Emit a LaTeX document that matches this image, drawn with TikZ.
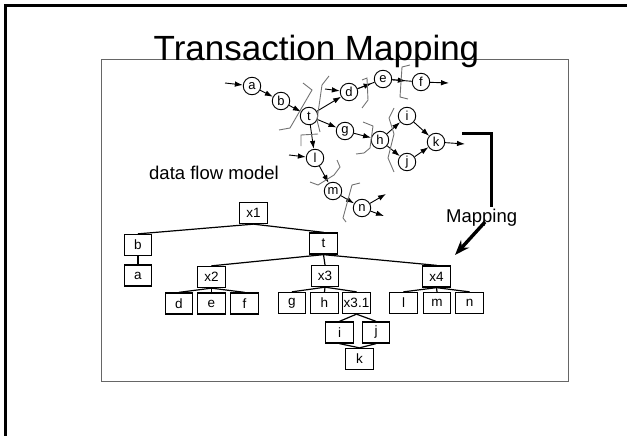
\documentclass[tikz,border=0pt]{standalone}
\usepackage{fontspec}
\setmainfont{Liberation Sans}
\usetikzlibrary{arrows.meta}
\tikzset{
  proc/.style={circle, draw, line width=0.9pt, minimum size=17.5pt, inner sep=0pt,
    font=\fontsize{13}{13}\selectfont},
  tbox/.style={draw, line width=1.3pt, minimum width=27.5pt, minimum height=21pt,
    inner sep=0pt, font=\fontsize{13.5}{13.5}\selectfont},
  flow/.style={-{Latex[length=8pt,width=5.5pt]}, line width=0.9pt},
  plain/.style={line width=0.9pt},
  bnd/.style={draw=black!55, line width=0.9pt},
  tree/.style={line width=1.2pt},
  heavy/.style={line width=3.6pt}
}
\begin{document}
\begin{tikzpicture}[x=1pt,y=-1pt]
\useasboundingbox (0,0) rectangle (627,436);
% slide frame and picture frame
\draw[line width=2.6pt] (5.3,436) -- (5.3,5.3) -- (627,5.3);
\draw[line width=0.8pt, draw=black!60] (101,59) rectangle (568,381);
\node[anchor=base, font=\fontsize{35}{35}\selectfont, inner sep=0pt] (title) at (316.5,61) {Transaction Mapping};

% ---------- data flow model ----------
\node[proc] (a) at (252,86) {a};
\node[proc] (b) at (281,101) {b};
\node[proc] (t) at (309,116) {t};
\node[proc] (d) at (349,92) {d};
\node[proc] (e) at (383,79) {e};
\node[proc] (f) at (421,82) {f};
\node[proc] (g) at (345,131) {g};
\node[proc] (h) at (380,140) {h};
\node[proc] (i) at (407,116) {i};
\node[proc] (j) at (407,162) {j};
\node[proc] (k) at (436,142) {k};
\node[proc] (l) at (315,158) {l};
\node[proc] (m) at (333,191) {m};
\node[proc] (n) at (362,208) {n};

\coordinate (ain) at (225,83);
\coordinate (din) at (325,89);
\coordinate (fout) at (449,83);
\coordinate (kout) at (465,144);
\coordinate (lin) at (289,155);
\coordinate (nout1) at (386,194);
\coordinate (nout2) at (384,216);

\draw[flow] (ain) -- (a);
\draw[flow] (a) -- (b);
\draw[flow] (b) -- (t);
\draw[flow] (t) -- (d);
\draw[flow] (din) -- (d);
\draw[plain] (d) -- (e);
\draw[flow, shorten >=3pt] (d) -- (e);
\draw[plain] (e) -- (f);
\draw[flow, shorten >=6pt] (e) -- (f);
\draw[flow] (f) -- (fout);
\draw[flow] (t) -- (g);
\draw[flow] (g) -- (h);
\draw[flow] (h) -- (i);
\draw[flow] (h) -- (j);
\draw[flow] (i) -- (k);
\draw[flow] (j) -- (k);
\draw[flow] (k) -- (kout);
\draw[flow] (t) -- (l);
\draw[flow] (lin) -- (l);
\draw[flow] (l) -- (m);
\draw[flow] (m) -- (n);
\draw[flow] (n) -- (nout1);
\draw[flow] (n) -- (nout2);

% transaction boundaries
\draw[bnd] (303,83) -- (312,90) -- (290,128) -- (279,130);
\draw[bnd] (329,76) -- (322,85) -- (317,120) -- (320,132);
\draw[bnd] (301,146) -- (301,135) -- (318,134);
\draw[bnd] (362,80) -- (367,78) -- (368,100) -- (362,108);
\draw[bnd] (410,65) -- (402,67) -- (400,97) -- (408,99);
\draw[bnd] (363,122) -- (373,126) -- (370,148) -- (364,153) -- (356,154);
\draw[bnd] (394,108) -- (389,118) -- (394,134) -- (388,158) -- (394,172);
\draw[bnd] (310,182) -- (318,185) -- (334,175) -- (340,167) -- (337,160);
\draw[bnd] (360,183) -- (352,185) -- (343,218) -- (346,222);

\node[anchor=base west, font=\fontsize{18.5}{18.5}\selectfont, inner sep=0pt] (dfm) at (149,179) {data flow model};

% ---------- mapping marker ----------
\coordinate (m1) at (462,133.3);
\coordinate (m2) at (491.5,133.3);
\coordinate (m3) at (491.5,207);
\draw[heavy] (m1) -- (m2) -- (m3);
\node[anchor=base west, font=\fontsize{18.5}{18.5}\selectfont, inner sep=0pt] (maplabel) at (446,222) {Mapping};
\coordinate (ms) at (485,222);
\coordinate (me) at (455,255);
\draw[line width=3.4pt, -{Stealth[length=15pt,width=11pt]}] (ms) -- (me);

% ---------- program structure ----------
\node[tbox] (X1) at (253.5,213) {x1};
\node[tbox] (B) at (138,245) {b};
\node[tbox] (A) at (138,275.5) {a};
\node[tbox] (T) at (323.5,243.5) {t};
\node[tbox] (X2) at (211.5,277) {x2};
\node[tbox] (X3) at (325,276) {x3};
\node[tbox] (X4) at (436.5,276.5) {x4};
\node[tbox] (D) at (179,303.5) {d};
\node[tbox] (E) at (211.5,303.5) {e};
\node[tbox] (F) at (244.5,303.5) {f};
\node[tbox] (G) at (292,303) {g};
\node[tbox] (H) at (324.5,303) {h};
\node[tbox] (X31) at (356.5,303) {x3.1};
\node[tbox] (L) at (403.5,303) {l};
\node[tbox] (M) at (437,303) {m};
\node[tbox] (N) at (469.5,303) {n};
\node[tbox] (I) at (339.5,332.5) {i};
\node[tbox] (J) at (376,332.5) {j};
\node[tbox] (K) at (359.5,359) {k};

\draw[tree] (X1.south) -- (B.north);
\draw[tree] (X1.south) -- (T.north);
\draw[tree] (B.south) -- (A.north);
\draw[tree] (T.south) -- (X2.north);
\draw[tree] (T.south) -- (X3.north);
\draw[tree] (T.south) -- (X4.north);
\draw[tree] (X2.south) -- (D.north);
\draw[tree] (X2.south) -- (E.north);
\draw[tree] (X2.south) -- (F.north);
\draw[tree] (X3.south) -- (G.north);
\draw[tree] (X3.south) -- (H.north);
\draw[tree] (X3.south) -- (X31.north);
\draw[tree] (X4.south) -- (L.north);
\draw[tree] (X4.south) -- (M.north);
\draw[tree] (X4.south) -- (N.north);
\draw[tree] (X31.south) -- (I.north);
\draw[tree] (X31.south) -- (J.north);
\draw[tree] (I.south) -- (K.north);
\draw[tree] (J.south) -- (K.north);
\end{tikzpicture}
\end{document}
